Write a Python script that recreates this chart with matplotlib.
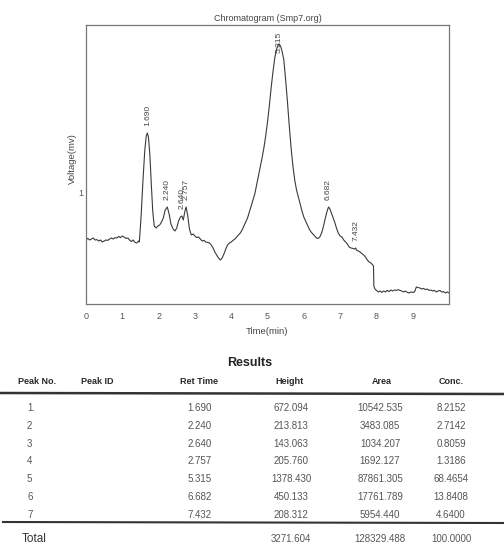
import matplotlib
matplotlib.use("Agg")
import matplotlib.pyplot as plt
from matplotlib.lines import Line2D

# detector trace, time in min, signal in mV
times = [
    0.00, 0.05, 0.10, 0.15, 0.20, 0.25, 0.30, 0.35, 0.40, 0.45,
    0.50, 0.55, 0.60, 0.65, 0.70, 0.75, 0.80, 0.85, 0.90, 0.95,
    1.00, 1.05, 1.10, 1.15, 1.20, 1.25, 1.30, 1.35, 1.40, 1.45,
    1.47, 1.52, 1.57, 1.62, 1.66, 1.69, 1.72, 1.76, 1.80, 1.84,
    1.88, 1.93, 1.98, 2.03, 2.08, 2.13, 2.18, 2.24, 2.29, 2.34,
    2.40, 2.45, 2.50, 2.55, 2.60, 2.64, 2.68, 2.72, 2.757, 2.80,
    2.85, 2.90, 2.95, 3.00, 3.05, 3.10, 3.15, 3.20, 3.25, 3.30,
    3.35, 3.40, 3.45, 3.50, 3.55, 3.60, 3.65, 3.70, 3.75, 3.80,
    3.85, 3.90, 3.95, 4.00, 4.05, 4.10, 4.15, 4.20, 4.25, 4.30,
    4.35, 4.40, 4.45, 4.50, 4.55, 4.60, 4.65, 4.70, 4.75, 4.80,
    4.85, 4.90, 4.95, 5.00, 5.05, 5.10, 5.15, 5.20, 5.25, 5.315,
    5.36, 5.40, 5.45, 5.50, 5.55, 5.60, 5.65, 5.70, 5.75, 5.80,
    5.85, 5.90, 5.95, 6.00, 6.05, 6.10, 6.15, 6.20, 6.25, 6.30,
    6.35, 6.40, 6.45, 6.50, 6.55, 6.60, 6.65, 6.682, 6.72, 6.76,
    6.80, 6.85, 6.90, 6.95, 7.00, 7.05, 7.10, 7.15, 7.20, 7.25,
    7.30, 7.35, 7.40, 7.432, 7.45, 7.50, 7.55, 7.60, 7.65, 7.70,
    7.75, 7.80, 7.85, 7.90, 7.92, 7.93, 7.96, 8.00, 8.05, 8.10,
    8.15, 8.20, 8.25, 8.30, 8.35, 8.40, 8.45, 8.50, 8.55, 8.60,
    8.65, 8.70, 8.75, 8.80, 8.85, 8.90, 8.95, 9.00, 9.05, 9.10,
    9.15, 9.20, 9.25, 9.30, 9.35, 9.40, 9.45, 9.50, 9.55, 9.60,
    9.65, 9.70, 9.75, 9.80, 9.85, 9.90, 9.95, 10.00,
]
signal = [
    0.760, 0.768, 0.760, 0.765, 0.770, 0.760, 0.762, 0.755, 0.760, 0.750,
    0.755, 0.760, 0.758, 0.765, 0.770, 0.765, 0.772, 0.770, 0.778, 0.772,
    0.780, 0.775, 0.768, 0.770, 0.760, 0.752, 0.760, 0.748, 0.745, 0.755,
    0.750, 0.885, 1.060, 1.210, 1.280, 1.295, 1.275, 1.185, 1.035, 0.900,
    0.830, 0.820, 0.830, 0.835, 0.850, 0.870, 0.910, 0.925, 0.890, 0.840,
    0.815, 0.805, 0.820, 0.855, 0.875, 0.880, 0.860, 0.900, 0.925, 0.885,
    0.815, 0.785, 0.790, 0.780, 0.772, 0.775, 0.765, 0.755, 0.758, 0.750,
    0.748, 0.745, 0.735, 0.720, 0.700, 0.685, 0.670, 0.660, 0.670, 0.690,
    0.715, 0.735, 0.745, 0.750, 0.758, 0.765, 0.775, 0.785, 0.795, 0.810,
    0.830, 0.850, 0.870, 0.900, 0.930, 0.960, 0.990, 1.035, 1.080, 1.125,
    1.170, 1.220, 1.280, 1.350, 1.430, 1.520, 1.600, 1.670, 1.715, 1.740,
    1.730, 1.705, 1.660, 1.560, 1.450, 1.330, 1.220, 1.130, 1.060, 1.010,
    0.975, 0.940, 0.905, 0.875, 0.855, 0.835, 0.815, 0.800, 0.790, 0.780,
    0.770, 0.768, 0.778, 0.800, 0.835, 0.875, 0.910, 0.925, 0.915, 0.895,
    0.875, 0.850, 0.820, 0.795, 0.780, 0.775, 0.760, 0.750, 0.740, 0.725,
    0.720, 0.718, 0.715, 0.720, 0.710, 0.705, 0.700, 0.692, 0.685, 0.675,
    0.660, 0.650, 0.645, 0.635, 0.630, 0.530, 0.515, 0.508, 0.500, 0.505,
    0.498, 0.505, 0.500, 0.508, 0.502, 0.510, 0.505, 0.510, 0.508, 0.512,
    0.508, 0.505, 0.500, 0.505, 0.498, 0.495, 0.500, 0.498, 0.500, 0.525,
    0.522, 0.520, 0.515, 0.518, 0.512, 0.515, 0.508, 0.510, 0.505, 0.508,
    0.500, 0.505, 0.508, 0.500, 0.502, 0.495, 0.500, 0.495,
]

# results table
peak_no = ["1.", "2", "3", "4", "5", "6", "7"]
ret_time = [1.690, 2.240, 2.640, 2.757, 5.315, 6.682, 7.432]
height = [672.094, 213.813, 143.063, 205.760, 1378.430, 450.133, 208.312]
area = [10542.535, 3483.085, 1034.207, 1692.127, 87861.305, 17761.789, 5954.440]
conc = [8.2152, 2.7142, 0.8059, 1.3186, 68.4654, 13.8408, 4.6400]
total_height = 3271.604
total_area = 128329.488
total_conc = 100.0000

x_ticks = [0, 1, 2, 3, 4, 5, 6, 7, 8, 9]
y_ticks = [1]

W, H = 504, 551
plt.rcParams["font.family"] = ["Liberation Sans", "DejaVu Sans"]

fig = plt.figure(figsize=(W / 100, H / 100), dpi=100)
fig.patch.set_facecolor("white")


def fx(x):
    return x / W


def fy(y):
    return 1 - y / H


ax = fig.add_axes([fx(86), fy(304), fx(449) - fx(86), fy(25) - fy(304)])
ax.plot(times, signal, color="#3a3a3a", lw=0.8)
ax.set_xlim(0, 10)
ax.set_ylim(0.44, 1.835)
ax.set_xticks(x_ticks)
ax.set_yticks(y_ticks)
ax.set_xticklabels([str(t) for t in x_ticks])
ax.set_yticklabels([str(t) for t in y_ticks])
ax.tick_params(length=0, labelsize=6.5, colors="#555555")
ax.tick_params(axis="x", pad=6)
ax.tick_params(axis="y", pad=2)
for s in ax.spines.values():
    s.set_color("#777777")
    s.set_linewidth(0.9)
ax.set_xlabel("Time(min)", fontsize=6.8, color="#444444", labelpad=4)
ax.set_ylabel("Voltage(mv)", fontsize=6.8, color="#444444")
ax.yaxis.set_label_coords(-0.024, 0.52)
ax.set_title("Chromatogram (Smp7.org)", fontsize=6.5, color="#444444", pad=3)

# retention time labels above each peak
ymax = ax.get_ylim()[1]
for rt in ret_time:
    i = times.index(rt)
    v = signal[i]
    if v > ymax - 0.2:
        ax.annotate(f"{rt:.3f}", (rt, ymax), xytext=(0, -5), textcoords="offset points",
                    rotation=90, ha="center", va="top", fontsize=6, color="#444444")
    else:
        ax.annotate(f"{rt:.3f}", (rt, v), xytext=(0, 5), textcoords="offset points",
                    rotation=90, ha="center", va="bottom", fontsize=6, color="#444444")

# results table
fig.text(fx(250), fy(363), "Results", fontsize=9, fontweight="bold",
         ha="center", va="center", color="#222222")
head_y = 382
headers = [("Peak No.", 37), ("Peak ID", 97), ("Ret Time", 199),
           ("Height", 290), ("Area", 382), ("Conc.", 451)]
for label, x in headers:
    fig.text(fx(x), fy(head_y), label, fontsize=6.5, fontweight="bold",
             ha="center", va="center", color="#2a2a2a")

fig.add_artist(Line2D([0, 1], [fy(393), fy(394)], transform=fig.transFigure,
                      color="#333333", lw=1.8))

row_y0, row_step = 408, 17.8
val_color = "#555555"
fs = 7
for k in range(len(peak_no)):
    y = fy(row_y0 + k * row_step)
    fig.text(fx(27), y, peak_no[k], fontsize=fs, ha="left", va="center", color=val_color)
    fig.text(fx(200), y, f"{ret_time[k]:.3f}", fontsize=fs, ha="center", va="center", color=val_color)
    fig.text(fx(291), y, f"{height[k]:.3f}", fontsize=fs, ha="center", va="center", color=val_color)
    fig.text(fx(380), y, f"{area[k]:.3f}", fontsize=fs, ha="center", va="center", color=val_color)
    fig.text(fx(451), y, f"{conc[k]:.4f}", fontsize=fs, ha="center", va="center", color=val_color)

fig.add_artist(Line2D([fx(3), 1], [fy(522), fy(523)], transform=fig.transFigure,
                      color="#333333", lw=1.5))

ty = fy(539)
fig.text(fx(22), ty, "Total", fontsize=8.5, ha="left", va="center", color="#333333")
fig.text(fx(291), ty, f"{total_height:.3f}", fontsize=fs, ha="center", va="center", color=val_color)
fig.text(fx(380), ty, f"{total_area:.3f}", fontsize=fs, ha="center", va="center", color=val_color)
fig.text(fx(451), ty, f"{total_conc:.4f}", fontsize=fs, ha="center", va="center", color=val_color)

fig.savefig("out.png", dpi=100)
